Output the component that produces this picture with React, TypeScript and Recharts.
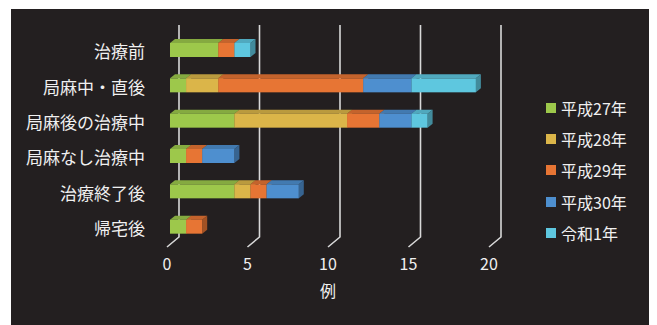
import React from 'react';
import {
  BarChart,
  Bar,
  XAxis,
  YAxis,
  CartesianGrid,
  Legend
} from 'recharts';

const categories = ['治療前', '局麻中・直後', '局麻後の治療中', '局麻なし治療中', '治療終了後', '帰宅後'];
const h27 = [3, 1, 4, 1, 4, 1];
const h28 = [0, 2, 7, 0, 1, 0];
const h29 = [1, 9, 2, 1, 1, 1];
const h30 = [0, 3, 2, 2, 2, 0];
const r1 = [1, 4, 1, 0, 0, 0];
const xTicks = [0, 5, 10, 15, 20];

const series = [
  { key: 'h27', label: '平成27年', color: '#9dc84b', values: h27 },
  { key: 'h28', label: '平成28年', color: '#dbb549', values: h28 },
  { key: 'h29', label: '平成29年', color: '#e77534', values: h29 },
  { key: 'h30', label: '平成30年', color: '#4e8fcf', values: h30 },
  { key: 'r1', label: '令和1年', color: '#5ec7df', values: r1 }
];

const data = categories.map((name, i) => {
  const row: { [k: string]: string | number } = { name };
  series.forEach(s => { row[s.key] = s.values[i]; });
  return row;
});

const FONT = "'Noto Sans CJK JP', 'Noto Sans', sans-serif";
const TEXT = '#f0f0f0';
const BG = '#231f20';

// darken a hex colour
function shade(hex: string, f: number) {
  const n = parseInt(hex.slice(1), 16);
  const r = Math.round(((n >> 16) & 255) * f);
  const g = Math.round(((n >> 8) & 255) * f);
  const b = Math.round((n & 255) * f);
  return `rgb(${r},${g},${b})`;
}

const DX = 5;
const DY = 4;

function Bar3D(props: any) {
  const { x, y, width, height, fill } = props;
  if (!width || width <= 0) return <g />;
  const top = `M${x},${y} L${x + width},${y} L${x + width + DX},${y - DY} L${x + DX},${y - DY} Z`;
  const side = `M${x + width},${y} L${x + width + DX},${y - DY} L${x + width + DX},${y + height - DY} L${x + width},${y + height} Z`;
  return (
    <g>
      <path d={side} fill={shade(fill, 0.7)} />
      <path d={top} fill={shade(fill, 0.85)} />
      <rect x={x} y={y} width={width} height={height} fill={fill} />
    </g>
  );
}

function GridLine(props: any) {
  const { x1, y1, y2, index } = props;
  const d = `M${x1 + 9},${y1 - 7} L${x1 + 9},${y2 - 7} L${x1 - 3},${y2 + 3}`;
  return <path key={`g-${index}`} d={d} stroke="#d8d8d8" strokeWidth={1.6} fill="none" />;
}

function YTick(props: any) {
  const { x, y, payload } = props;
  return (
    <text x={x - 23} y={y + 4} textAnchor="end" dominantBaseline="middle"
      fill={TEXT} fontSize={17} fontFamily={FONT}>
      {payload.value}
    </text>
  );
}

function XTick(props: any) {
  const { x, y, payload } = props;
  return (
    <text x={x - 3} y={y + 20} textAnchor="middle" dominantBaseline="middle"
      fill={TEXT} fontSize={16} fontFamily={FONT}>
      {payload.value}
    </text>
  );
}

// legend in series order (recharts sorts its payload)
function LegendBox() {
  return (
    <div style={{ width: 110, fontFamily: FONT }}>
      {series.map(s => (
        <div key={s.key} style={{ display: 'flex', alignItems: 'center', height: 31.3 }}>
          <span style={{ width: 10, height: 10, background: s.color, marginRight: 5 }} />
          <span style={{ color: TEXT, fontSize: 16 }}>{s.label}</span>
        </div>
      ))}
    </div>
  );
}

export default function App() {
  return (
    <div style={{ marginLeft: 3, marginTop: 1, width: 639, height: 316, background: BG }}>
      <BarChart
        width={639}
        height={316}
        data={data}
        layout="vertical"
        margin={{ top: 23, right: 48, left: 9, bottom: 21 }}
      >
        <CartesianGrid horizontal={false} vertical={GridLine} />
        <XAxis
          type="number"
          domain={[0, 20]}
          ticks={xTicks}
          axisLine={false}
          tickLine={false}
          tickSize={0}
          height={60}
          tick={<XTick />}
          label={{ value: '例', position: 'insideBottom', dx: -3, dy: -2, fill: TEXT, fontSize: 16, fontFamily: FONT }}
        />
        <YAxis
          type="category"
          dataKey="name"
          width={150}
          axisLine={false}
          tickLine={false}
          tickSize={0}
          tick={<YTick />}
        />
        <Legend
          layout="vertical"
          align="right"
          verticalAlign="top"
          wrapperStyle={{ left: 535, top: 83, width: 110 }}
          content={<LegendBox />}
        />
        {series.map(s => (
          <Bar
            key={s.key}
            dataKey={s.key}
            name={s.label}
            stackId="a"
            fill={s.color}
            barSize={14}
            shape={<Bar3D />}
            isAnimationActive={false}
          />
        ))}
      </BarChart>
    </div>
  );
}
